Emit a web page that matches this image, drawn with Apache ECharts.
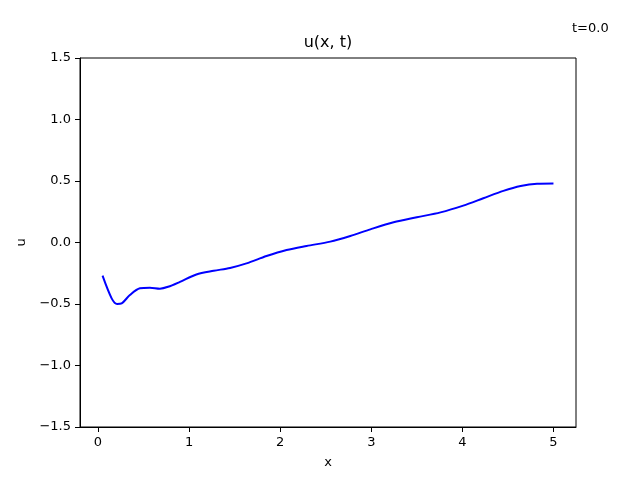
<!DOCTYPE html>
<html>
<head>
<meta charset="utf-8">
<script src="https://cdn.jsdelivr.net/npm/echarts@6/dist/echarts.min.js"></script>
<style>html,body{margin:0;padding:0;background:#fff}#c{width:640px;height:480px}</style>
</head>
<body>
<div id="c"></div>
<script>
const xs = [0.05, 0.15, 0.21, 0.26, 0.35, 0.46, 0.57, 0.68, 0.77, 0.90, 1.08, 1.27, 1.45, 1.63, 1.85, 2.07, 2.29, 2.55, 2.77, 2.99, 3.245, 3.50, 3.76, 4.01, 4.23, 4.45, 4.64, 4.82, 5.0];
const us = [-0.27, -0.454, -0.50, -0.495, -0.427, -0.372, -0.367, -0.375, -0.36, -0.32, -0.26, -0.23, -0.207, -0.17, -0.11, -0.061, -0.028, 0.007, 0.053, 0.107, 0.164, 0.205, 0.245, 0.30, 0.36, 0.42, 0.46, 0.478, 0.48];
const xTicks = [0, 1, 2, 3, 4, 5];
const yTicks = [-1.5, -1.0, -0.5, 0.0, 0.5, 1.0, 1.5];
const titleText = 'u(x, t)';
const timeText = 't=0.0';

const font = 'DejaVu Sans';
const fmtY = v => (v < 0 ? '\u2212' : '') + Math.abs(v).toFixed(1);
const chart = echarts.init(document.getElementById('c'), null, {renderer: 'canvas'});
chart.setOption({
  animation: false,
  backgroundColor: '#fff',
  title: [
    {text: titleText, left: 328, top: 35, textAlign: 'center', padding: 0,
     textStyle: {fontFamily: font, fontSize: 16, fontWeight: 'normal', color: '#000'}},
    {text: timeText, left: 572, top: 22, padding: 0,
     textStyle: {fontFamily: font, fontSize: 13, fontWeight: 'normal', color: '#000'}}
  ],
  grid: {left: 80, right: 64, top: 58, bottom: 53, show: true, borderColor: '#000', borderWidth: 1, backgroundColor: 'transparent'},
  xAxis: {
    type: 'value', min: -0.1975, max: 5.2475,
    name: 'x', nameLocation: 'middle', nameGap: 29,
    nameTextStyle: {fontFamily: font, fontSize: 13, color: '#000'},
    axisLine: {show: true, onZero: false, lineStyle: {color: '#000', width: 1}},
    axisTick: {show: true, inside: false, length: 5, customValues: xTicks, lineStyle: {color: '#000'}},
    axisLabel: {customValues: xTicks, margin: 9, fontFamily: font, fontSize: 13, color: '#000', formatter: v => String(v)},
    splitLine: {show: false}
  },
  yAxis: {
    type: 'value', min: -1.5, max: 1.5, interval: 0.5,
    name: 'u', nameLocation: 'middle', nameGap: 52, nameRotate: 90,
    nameTextStyle: {fontFamily: font, fontSize: 13, color: '#000'},
    axisLine: {show: true, onZero: false, lineStyle: {color: '#000', width: 1}},
    axisTick: {show: true, inside: false, length: 5, customValues: yTicks, lineStyle: {color: '#000'}},
    axisLabel: {customValues: yTicks, margin: 9, fontFamily: font, fontSize: 13, color: '#000', formatter: fmtY},
    splitLine: {show: false}
  },
  series: [{
    type: 'line',
    data: xs.map((x, i) => [x, us[i]]),
    showSymbol: false, smooth: 0.3,
    lineStyle: {color: '#0000ff', width: 2},
    itemStyle: {color: '#0000ff'}
  }]
});
</script>
</body>
</html>
